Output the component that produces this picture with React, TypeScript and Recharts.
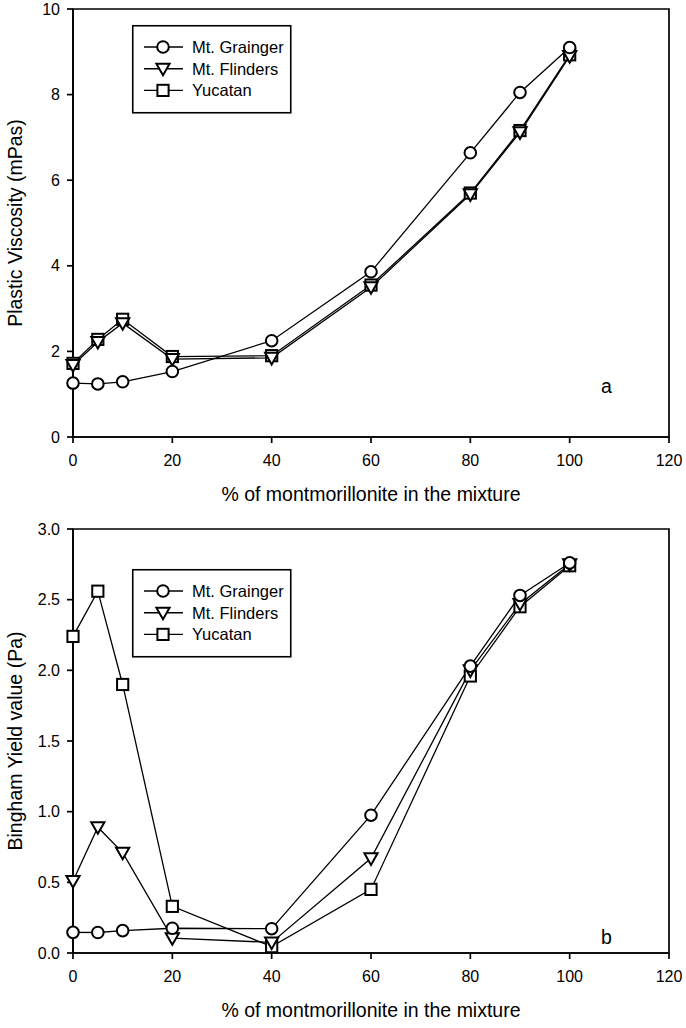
import React from "react";
import {
  LineChart,
  Line,
  XAxis,
  YAxis,
  ReferenceArea,
} from "recharts";

const FONT = '"Liberation Sans", Arial, Helvetica, sans-serif';

// % of montmorillonite in the mixture
const montmorillonite = [0, 5, 10, 20, 40, 60, 80, 90, 100];

// panel a: plastic viscosity (mPas)
const viscosityGrainger = [1.26, 1.24, 1.29, 1.53, 2.25, 3.86, 6.64, 8.05, 9.1];
const viscosityFlinders = [1.68, 2.22, 2.66, 1.82, 1.85, 3.5, 5.67, 7.12, 8.9];
const viscosityYucatan = [1.72, 2.28, 2.75, 1.88, 1.9, 3.55, 5.7, 7.16, 8.93];

// panel b: Bingham yield value (Pa)
const yieldGrainger = [0.146, 0.145, 0.158, 0.175, 0.172, 0.975, 2.03, 2.53, 2.76];
const yieldFlinders = [0.51, 0.89, 0.71, 0.105, 0.075, 0.67, 2.0, 2.47, 2.75];
const yieldYucatan = [2.24, 2.56, 1.9, 0.33, 0.045, 0.45, 1.96, 2.45, 2.74];

const xTicks = [0, 20, 40, 60, 80, 100, 120];
const viscosityTicks = [0, 2, 4, 6, 8, 10];
const yieldTicks = [0, 0.5, 1, 1.5, 2, 2.5, 3];

const seriesNames = ["Mt. Grainger", "Mt. Flinders", "Yucatan"];

const buildRows = (g: number[], f: number[], y: number[]) =>
  montmorillonite.map((x, i) => ({ x, grainger: g[i], flinders: f[i], yucatan: y[i] }));

const viscosityRows = buildRows(viscosityGrainger, viscosityFlinders, viscosityYucatan);
const yieldRows = buildRows(yieldGrainger, yieldFlinders, yieldYucatan);

type Shape = "circle" | "triangle" | "square";

const Marker = ({ cx, cy, shape }: { cx: number; cy: number; shape: Shape }) => {
  const sw = 2;
  if (shape === "circle")
    return <circle cx={cx} cy={cy} r={5.8} fill="#fff" stroke="#000" strokeWidth={sw} />;
  if (shape === "triangle")
    return (
      <polygon
        points={`${cx - 6.6},${cy - 5} ${cx + 6.6},${cy - 5} ${cx},${cy + 6.6}`}
        fill="#fff"
        stroke="#000"
        strokeWidth={sw}
      />
    );
  return <rect x={cx - 5.6} y={cy - 5.6} width={11.2} height={11.2} fill="#fff" stroke="#000" strokeWidth={sw} />;
};

const dotFor = (shape: Shape) => (p: any) =>
  p.cx == null || p.cy == null ? (
    <g key={`${shape}-${p.index}`} />
  ) : (
    <Marker key={`${shape}-${p.index}`} cx={p.cx} cy={p.cy} shape={shape} />
  );

const XTitle = (props: any) => {
  const vb = props.viewBox || {};
  return (
    <text
      x={vb.x + vb.width / 2}
      y={vb.y + 57}
      textAnchor="middle"
      dominantBaseline="central"
      fontFamily={FONT}
      fontSize={19.5}
      fill="#000"
    >
      % of montmorillonite in the mixture
    </text>
  );
};

const makeYTitle = (text: string) => (props: any) => {
  const vb = props.viewBox || {};
  const cx = 15;
  const cy = vb.y + vb.height / 2;
  return (
    <text
      x={cx}
      y={cy}
      transform={`rotate(-90 ${cx} ${cy})`}
      textAnchor="middle"
      dominantBaseline="central"
      fontFamily={FONT}
      fontSize={19.5}
      fill="#000"
    >
      {text}
    </text>
  );
};

const LegendBox = ({ left, top }: { left: number; top: number }) => {
  const shapes: Shape[] = ["circle", "triangle", "square"];
  return (
    <svg
      width={160}
      height={90}
      style={{ position: "absolute", left, top, overflow: "visible" }}
    >
      <rect x={0.75} y={0.75} width={158} height={87} fill="#fff" stroke="#000" strokeWidth={1.6} />
      {shapes.map((s, i) => {
        const cy = 22 + i * 21.7;
        return (
          <g key={s}>
            <line x1={12} x2={51} y1={cy} y2={cy} stroke="#000" strokeWidth={1.4} />
            <Marker cx={31} cy={cy} shape={s} />
            <text x={60} y={cy} dominantBaseline="central" fontFamily={FONT} fontSize={16.5} fill="#000">
              {seriesNames[i]}
            </text>
          </g>
        );
      })}
    </svg>
  );
};

const PanelLetter = ({ left, top, letter }: { left: number; top: number; letter: string }) => (
  <div
    style={{
      position: "absolute",
      left,
      top,
      fontFamily: FONT,
      fontSize: 19.5,
      lineHeight: "20px",
      color: "#000",
    }}
  >
    {letter}
  </div>
);

const tickStyle = { fontFamily: FONT, fontSize: 16, fill: "#000" };

interface PanelProps {
  rows: Array<Record<string, number>>;
  yTicks: number[];
  yMax: number;
  yTitle: string;
  height: number;
  top: number;
  bottom: number;
  xAxisHeight: number;
  decimals: number;
}

const Panel = ({ rows, yTicks, yMax, yTitle, height, top, bottom, xAxisHeight, decimals }: PanelProps) => (
  <LineChart
    width={686}
    height={height}
    data={rows}
    margin={{ top, right: 17, bottom, left: 0 }}
  >
    <XAxis
      dataKey="x"
      type="number"
      domain={[0, 120]}
      ticks={xTicks}
      interval={0}
      height={xAxisHeight}
      tickSize={6}
      tickMargin={12}
      stroke="#000"
      strokeWidth={1.7}
      tick={tickStyle}
      label={XTitle}
    />
    <YAxis
      type="number"
      domain={[0, yMax]}
      ticks={yTicks}
      interval={0}
      width={73}
      tickSize={6}
      tickMargin={7}
      stroke="#000"
      strokeWidth={1.7}
      tick={tickStyle}
      tickFormatter={(v: number) => v.toFixed(decimals)}
      label={makeYTitle(yTitle)}
    />
    <ReferenceArea x1={0} x2={120} y1={0} y2={yMax} fill="none" stroke="#000" strokeWidth={1.7} fillOpacity={0} />
    <Line
      dataKey="yucatan"
      stroke="#000"
      strokeWidth={1.3}
      dot={dotFor("square")}
      activeDot={false}
      isAnimationActive={false}
    />
    <Line
      dataKey="flinders"
      stroke="#000"
      strokeWidth={1.3}
      dot={dotFor("triangle")}
      activeDot={false}
      isAnimationActive={false}
    />
    <Line
      dataKey="grainger"
      stroke="#000"
      strokeWidth={1.3}
      dot={dotFor("circle")}
      activeDot={false}
      isAnimationActive={false}
    />
  </LineChart>
);

export default function App() {
  return (
    <div
      style={{
        position: "absolute",
        left: 0,
        top: 0,
        width: 686,
        height: 1028,
        background: "#fff",
      }}
    >
      <div style={{ position: "absolute", left: 0, top: 0 }}>
        <Panel
          rows={viscosityRows}
          yTicks={viscosityTicks}
          yMax={10}
          yTitle="Plastic Viscosity (mPas)"
          height={516}
          top={9}
          bottom={16}
          xAxisHeight={63}
          decimals={0}
        />
      </div>
      <div style={{ position: "absolute", left: 0, top: 500 }}>
        <Panel
          rows={yieldRows}
          yTicks={yieldTicks}
          yMax={3}
          yTitle="Bingham Yield value (Pa)"
          height={528}
          top={29}
          bottom={0}
          xAxisHeight={75}
          decimals={1}
        />
      </div>
      <LegendBox left={132} top={25} />
      <LegendBox left={132} top={569} />
      <PanelLetter left={601} top={376} letter="a" />
      <PanelLetter left={601} top={927} letter="b" />
    </div>
  );
}
